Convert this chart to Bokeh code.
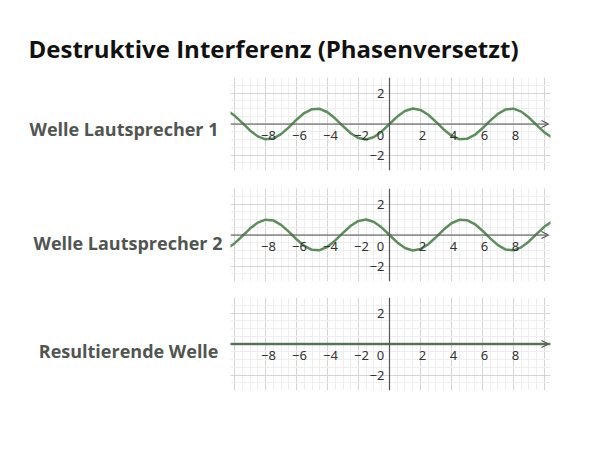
from bokeh.plotting import figure
from bokeh.models import (ColumnDataSource, FixedTicker, Span, Arrow, OpenHead, Grid, Column, Row, Range1d)
from bokeh.core.properties import value
from bokeh.embed import file_html
from bokeh.resources import INLINE

# ---- data ----
title_text = "Destruktive Interferenz (Phasenversetzt)"
panel_labels = ["Welle Lautsprecher 1", "Welle Lautsprecher 2", "Resultierende Welle"]

x_vals = [-10.5, -10.0, -9.5, -9.0, -8.5, -8.0, -7.5, -7.0, -6.5, -6.0, -5.5,
          -5.0, -4.5, -4.0, -3.5, -3.0, -2.5, -2.0, -1.5, -1.0, -0.5, 0.0,
          0.5, 1.0, 1.5, 2.0, 2.5, 3.0, 3.5, 4.0, 4.5, 5.0, 5.5, 6.0, 6.5,
          7.0, 7.5, 8.0, 8.5, 9.0, 9.5, 10.0, 10.5]
wave1 = [0.880, 0.544, 0.075, -0.412, -0.798, -0.989, -0.938, -0.657, -0.215, 0.279, 0.706,
         0.959, 0.978, 0.757, 0.351, -0.141, -0.598, -0.909, -0.997, -0.841, -0.479, 0.0,
         0.479, 0.841, 0.997, 0.909, 0.598, 0.141, -0.351, -0.757, -0.978, -0.959, -0.706,
         -0.279, 0.215, 0.657, 0.938, 0.989, 0.798, 0.412, -0.075, -0.544, -0.880]
wave2 = [-0.880, -0.544, -0.075, 0.412, 0.798, 0.989, 0.938, 0.657, 0.215, -0.279, -0.706,
         -0.959, -0.978, -0.757, -0.351, 0.141, 0.598, 0.909, 0.997, 0.841, 0.479, 0.0,
         -0.479, -0.841, -0.997, -0.909, -0.598, -0.141, 0.351, 0.757, 0.978, 0.959, 0.706,
         0.279, -0.215, -0.657, -0.938, -0.989, -0.798, -0.412, 0.075, 0.544, 0.880]
result = [0.0, 0.0, 0.0, 0.0, 0.0, 0.0, 0.0, 0.0, 0.0, 0.0, 0.0,
          0.0, 0.0, 0.0, 0.0, 0.0, 0.0, 0.0, 0.0, 0.0, 0.0, 0.0,
          0.0, 0.0, 0.0, 0.0, 0.0, 0.0, 0.0, 0.0, 0.0, 0.0, 0.0,
          0.0, 0.0, 0.0, 0.0, 0.0, 0.0, 0.0, 0.0, 0.0, 0.0]

x_tick_vals = [-8, -6, -4, -2, 0, 2, 4, 6, 8]
x_tick_text = ["\u22128", "\u22126", "\u22124", "\u22122", "0", "2", "4", "6", "8"]
y_tick_vals = [2, -2]
y_tick_text = ["2", "\u22122"]
major_grid = [-10, -8, -6, -4, -2, 0, 2, 4, 6, 8, 10]
minor_grid = [v * 0.5 for v in range(-20, 21)]

waves = [wave1, wave2, result]

GREEN = "#5a8f5a"
AXIS = "#555555"
FONT = "Open Sans"

row_heights = [102, 110, 111]
tops = [0, 9, 8]
bottoms = [9, 8, 10]
label_right = [218, 222, 218]
label_base = [56, 65, 64]


def blank_fig(w, h):
    f = figure(width=w, height=h, x_range=Range1d(0, w), y_range=Range1d(h, 0),
               output_backend="svg", toolbar_location=None,
               x_axis_type=None, y_axis_type=None,
               min_border_left=0, min_border_right=0, min_border_top=0, min_border_bottom=0)
    f.outline_line_color = None
    f.xgrid.visible = False
    f.ygrid.visible = False
    return f


title_fig = blank_fig(581, 77)
title_fig.text(x=[28], y=[48], text=[title_text], text_align="left", text_baseline="middle",
               text_font=value(FONT), text_font_style="bold", text_font_size="24px",
               text_color="#111111")

rows = [title_fig]
for i in range(3):
    lab = blank_fig(230, row_heights[i])
    lab.text(x=[label_right[i]], y=[label_base[i]], text=[panel_labels[i]],
             text_align="right", text_baseline="alphabetic",
             text_font=value(FONT), text_font_style="bold", text_font_size="18px",
             text_color="#505550")

    p = figure(width=351, height=row_heights[i], x_range=(-10.26, 10.39), y_range=(-3, 3),
               output_backend="svg", toolbar_location=None,
               x_axis_type=None, y_axis_type=None,
               min_border_left=0, min_border_right=31,
               min_border_top=tops[i], min_border_bottom=bottoms[i])
    p.outline_line_color = None
    p.xgrid.visible = False
    p.ygrid.visible = False

    xg = Grid(dimension=0, ticker=FixedTicker(ticks=major_grid, minor_ticks=minor_grid),
              grid_line_color="#d4d4d4", grid_line_width=1,
              minor_grid_line_color="#eeeeee", minor_grid_line_width=1)
    yg = Grid(dimension=1, ticker=FixedTicker(ticks=[-2, 0, 2], minor_ticks=[v * 0.5 for v in range(-6, 7)]),
              grid_line_color="#d4d4d4", grid_line_width=1,
              minor_grid_line_color="#eeeeee", minor_grid_line_width=1)
    p.add_layout(xg, "center")
    p.add_layout(yg, "center")

    # axes
    p.add_layout(Span(location=0, dimension="height", line_color=AXIS, line_width=1.2))
    p.add_layout(Arrow(x_start=-10.26, y_start=0, x_end=10.26, y_end=0,
                       line_color=AXIS, line_width=1.2,
                       end=OpenHead(size=7, line_color=AXIS, line_width=1.2)))

    # wave
    src = ColumnDataSource(dict(x=x_vals, y=waves[i]))
    p.line("x", "y", source=src, line_color=GREEN, line_width=2.5)

    # tick labels
    xs = ColumnDataSource(dict(x=x_tick_vals, y=[0] * len(x_tick_vals), t=x_tick_text,
                               dx=[3, 3, 3, 3, -9, 2, 2, 2, 2]))
    p.text("x", "y", text="t", source=xs, x_offset="dx", y_offset=7,
           text_align="center", text_baseline="top", text_font=value("Noto Sans"),
           text_font_size="13px", text_color="#333333")
    ys = ColumnDataSource(dict(x=[0, 0], y=y_tick_vals, t=y_tick_text))
    p.text("x", "y", text="t", source=ys, x_offset=-5,
           text_align="right", text_baseline="middle", text_font=value("Noto Sans"),
           text_font_size="13px", text_color="#333333")

    rows.append(Row(children=[lab, p], spacing=0))

layout = Column(children=rows, spacing=0)
open("out.html", "w").write(file_html(layout, INLINE))
